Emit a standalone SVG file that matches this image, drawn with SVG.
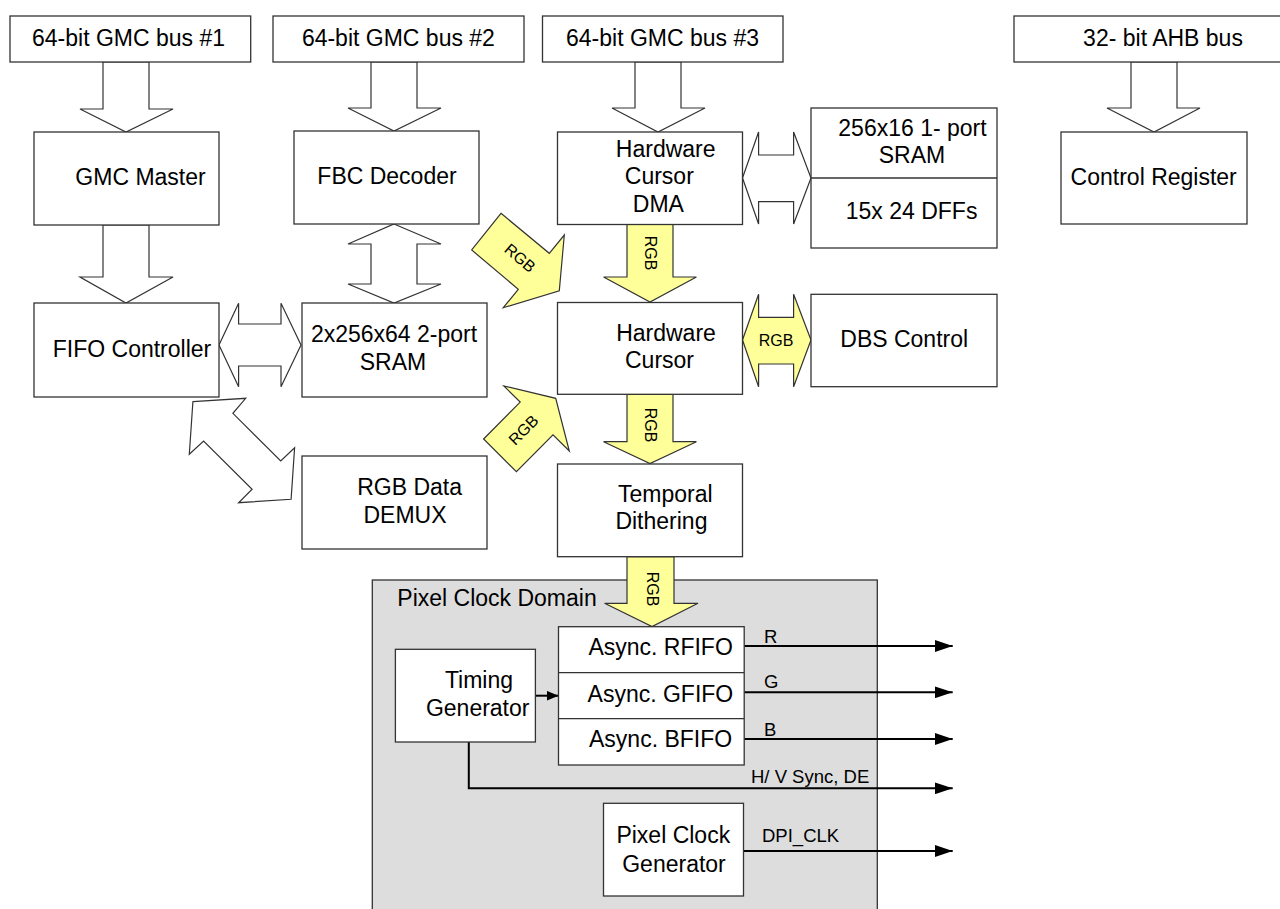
<svg xmlns="http://www.w3.org/2000/svg" width="1280" height="909" viewBox="0 0 1280 909">
<defs>
<style>
.box{fill:#fff;stroke:#333;stroke-width:1.3}
.wa{fill:#fff;stroke:#333;stroke-width:1.2}
.ya{fill:#ffff99;stroke:#333;stroke-width:1.2}
.t{font-family:"Liberation Sans",Arial,sans-serif;font-size:23px;fill:#000;text-anchor:middle}
.s{font-family:"Liberation Sans",Arial,sans-serif;font-size:18.5px;fill:#000}
.r{font-family:"Liberation Sans",Arial,sans-serif;font-size:16px;fill:#000;text-anchor:middle;dominant-baseline:central}
.ln{fill:none;stroke:#000;stroke-width:2}
</style>
<marker id="ah" markerWidth="18" markerHeight="12" refX="18" refY="6" orient="auto" markerUnits="userSpaceOnUse">
<path d="M0,0 L18,6 L0,12 Z" fill="#000"/>
</marker>
<marker id="ahs" markerWidth="12" markerHeight="10" refX="12" refY="5" orient="auto" markerUnits="userSpaceOnUse">
<path d="M0,0 L12,5 L0,10 Z" fill="#000"/>
</marker>
</defs>

<g id="domain">
<rect x="372.3" y="580" width="505" height="340" fill="#dddddd" stroke="#333" stroke-width="1.3"/>
<text class="t" x="497" y="606">Pixel Clock Domain</text>
</g>

<g id="connectors">
<polygon class="wa" points="103,62 149,62 149,109 173,109 126,132 80,109 103,109"/>
<polygon class="wa" points="103,225 149,225 149,277 173,277 126,303 80,277 103,277"/>
<polygon class="wa" points="371,62 417,62 417,108 441,108 394,131 348,108 371,108"/>
<polygon class="wa" points="394,224 441,244 417,244 417,284 441,284 394,303 348,284 371,284 371,244 348,244"/>
<polygon class="wa" points="635,62 681,62 681,108 705,108 658,132 612,108 635,108"/>
<polygon class="wa" points="1131,62 1177,62 1177,108 1200,108 1154,132 1107,108 1131,108"/>
<polygon class="wa" points="219,345 238.6,303.3 238.6,324 281,324 281,303.3 301,345 281,386.7 281,366 238.6,366 238.6,386.7"/>
<polygon class="wa" points="742.5,178 758.6,132 758.6,155 793.6,155 793.6,132 811,178 793.6,224 793.6,201.7 758.6,201.7 758.6,224"/>
<polygon class="wa" points="192.9,401.7 245.7,398.3 232.9,413.3 280.7,461 294.6,447.7 291.1,499.3 238.6,502.7 252.1,489.3 203.6,441 189.3,454.3"/>
<polygon class="ya" points="742.5,340 758.6,294.3 758.6,317.3 793.6,317.3 793.6,294.3 811,340 793.6,386.7 793.6,364 758.6,364 758.6,386.7"/>
<text class="r" x="776" y="340">RGB</text>
<polygon class="ya" points="627,224.5 673,224.5 673,277 696.4,277 650,302 603.6,277 627,277"/>
<text class="r" transform="translate(650,253) rotate(90)">RGB</text>
<polygon class="ya" points="627,394.3 673,394.3 673,441.7 696.4,441.7 650,463.5 603.6,441.7 627,441.7"/>
<text class="r" transform="translate(650,425) rotate(90)">RGB</text>
<polygon class="ya" points="627,556.7 674,556.7 674,603.3 698,603.3 652,626.5 604.6,603.3 627,603.3"/>
<text class="r" transform="translate(652,589) rotate(90)">RGB</text>
<polygon class="ya" points="501,213.3 549.3,253.3 564.3,235 559.3,290.7 503.3,307.7 518.3,289.3 471.7,250"/>
<text class="r" transform="translate(520,258) rotate(40)">RGB</text>
<polygon class="ya" points="483.6,439 520.2,402.1 503.9,386 555.7,398.3 569.3,451 553,434.9 516.4,471.7"/>
<text class="r" transform="translate(523.5,430) rotate(-45)">RGB</text>
<line class="ln" x1="535.4" y1="695.7" x2="558.5" y2="695.7" stroke-width="1.5" marker-end="url(#ahs)"/>
<line class="ln" x1="744.2" y1="646" x2="952.7" y2="646" marker-end="url(#ah)"/>
<line class="ln" x1="744.2" y1="692.3" x2="952.7" y2="692.3" marker-end="url(#ah)"/>
<line class="ln" x1="744.2" y1="739" x2="952.7" y2="739" marker-end="url(#ah)"/>
<polyline class="ln" points="468.8,742 468.8,788.3 952.7,788.3" marker-end="url(#ah)"/>
<line class="ln" x1="743.5" y1="851" x2="952.7" y2="851" marker-end="url(#ah)"/>
<text class="s" x="764" y="642.7">R</text>
<text class="s" x="764" y="688.3">G</text>
<text class="s" x="764" y="735.7">B</text>
<text class="s" x="751" y="783.3">H/ V Sync, DE</text>
<text class="s" x="762" y="841.7">DPI_CLK</text>
</g>

<g id="bus1"><rect class="box" x="10" y="16" width="240.7" height="46"/><text class="t" x="128.5" y="45.7">64-bit GMC bus #1</text></g>
<g id="bus2"><rect class="box" x="273" y="16" width="251" height="46"/><text class="t" x="398.4" y="45.7">64-bit GMC bus #2</text></g>
<g id="bus3"><rect class="box" x="542.5" y="16" width="240.5" height="46"/><text class="t" x="662.5" y="45.7">64-bit GMC bus #3</text></g>
<g id="ahb"><rect class="box" x="1014" y="16" width="280" height="46"/><text class="t" x="1163" y="45.7">32- bit AHB bus</text></g>

<g id="gmc-master"><rect class="box" x="34" y="132" width="185" height="93"/><text class="t" x="140.5" y="185">GMC Master</text></g>
<g id="fbc-decoder"><rect class="box" x="294" y="131" width="185" height="93"/><text class="t" x="387" y="184.3">FBC Decoder</text></g>
<g id="hw-cursor-dma"><rect class="box" x="557.5" y="132" width="185" height="92.5"/>
<text class="t" x="665.7" y="156.7">Hardware</text><text class="t" x="659.3" y="184.3">Cursor</text><text class="t" x="658.4" y="211.7">DMA</text></g>
<g id="sram-1port"><rect class="box" x="811" y="108" width="186" height="140"/><line x1="811" y1="178" x2="997" y2="178" stroke="#333" stroke-width="1.3"/>
<text class="t" x="912.5" y="136">256x16 1- port</text><text class="t" x="912" y="162.7">SRAM</text><text class="t" x="911.6" y="219">15x 24 DFFs</text></g>
<g id="control-register"><rect class="box" x="1061" y="132" width="186" height="92"/><text class="t" x="1153.7" y="185">Control Register</text></g>

<g id="fifo-controller"><rect class="box" x="34" y="303" width="185" height="94"/><text class="t" x="132" y="356.5">FIFO Controller</text></g>
<g id="sram-2port"><rect class="box" x="302" y="303" width="185" height="94"/><text class="t" x="394" y="341.7">2x256x64 2-port</text><text class="t" x="393" y="370">SRAM</text></g>
<g id="hw-cursor"><rect class="box" x="557.5" y="302.5" width="185" height="91.8"/><text class="t" x="666" y="341">Hardware</text><text class="t" x="659.5" y="368.3">Cursor</text></g>
<g id="dbs-control"><rect class="box" x="811" y="294.3" width="186" height="92.4"/><text class="t" x="904.2" y="346.7">DBS Control</text></g>
<g id="rgb-demux"><rect class="box" x="302" y="456" width="185" height="93"/><text class="t" x="409.6" y="495">RGB Data</text><text class="t" x="405" y="522.7">DEMUX</text></g>
<g id="temporal-dithering"><rect class="box" x="557.5" y="464" width="185" height="92.7"/><text class="t" x="665.3" y="502.3">Temporal</text><text class="t" x="661.4" y="529.3">Dithering</text></g>

<g id="async-fifos"><rect class="box" x="558.5" y="626.7" width="185.7" height="138.3"/>
<line x1="558.5" y1="672.7" x2="744.2" y2="672.7" stroke="#333" stroke-width="1.3"/><line x1="558.5" y1="718.7" x2="744.2" y2="718.7" stroke="#333" stroke-width="1.3"/>
<text class="t" x="660.6" y="655">Async. RFIFO</text><text class="t" x="660.4" y="701.7">Async. GFIFO</text><text class="t" x="660.6" y="747.3">Async. BFIFO</text></g>
<g id="timing-generator"><rect class="box" x="395.4" y="649.3" width="140" height="92.7"/><text class="t" x="479" y="688.3">Timing</text><text class="t" x="477.7" y="715.7">Generator</text></g>
<g id="pixel-clock-generator"><rect class="box" x="603.5" y="803.3" width="140" height="92.7"/><text class="t" x="673.3" y="843.3">Pixel Clock</text><text class="t" x="674" y="871.7">Generator</text></g>
</svg>
